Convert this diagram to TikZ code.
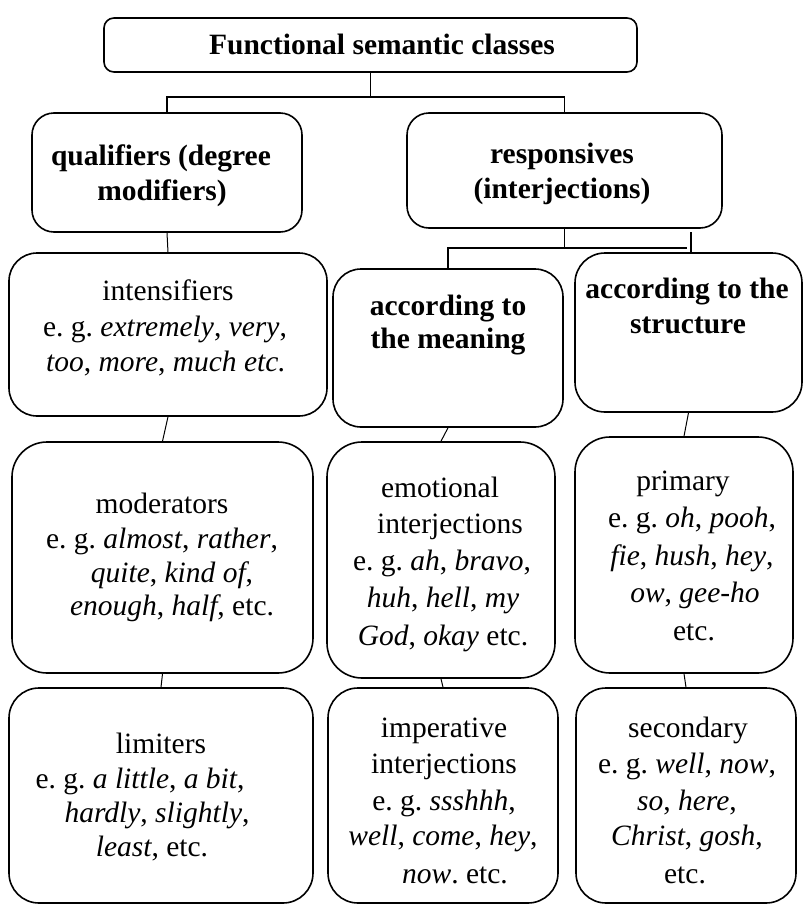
\documentclass[tikz,border=0pt]{standalone}
\usepackage{fontspec}
\setmainfont{Liberation Serif}
\frenchspacing
\begin{document}
\begin{tikzpicture}[x=1pt,y=-1pt,
  box/.style={draw, line width=1.6pt, inner sep=0pt},
  txt/.style={anchor=base, inner sep=0pt, font=\fontsize{29.5}{36}\selectfont},
  btxt/.style={anchor=base, inner sep=0pt, font=\fontsize{29.5}{36}\selectfont\bfseries},
  link/.style={line width=1.5pt},
  thin link/.style={line width=1pt}]
\useasboundingbox[fill=white] (0,0) rectangle (803,905);

% ---- boxes ----
\node[box, rounded corners=10pt, minimum width=533pt, minimum height=54pt]  (title) at (370.5,45)  {};
\node[box, rounded corners=22pt, minimum width=270pt, minimum height=119pt] (qual)  at (167,172.5) {};
\node[box, rounded corners=22pt, minimum width=315pt, minimum height=115pt] (resp)  at (564.5,170.5) {};
\node[box, rounded corners=28pt, minimum width=318pt, minimum height=163pt] (int)   at (168,334.5) {};
\node[box, rounded corners=28pt, minimum width=230pt, minimum height=158pt] (mean)  at (448,348)   {};
\node[box, rounded corners=30pt, minimum width=227pt, minimum height=159pt] (struc) at (688.5,332.5) {};
\node[box, rounded corners=35pt, minimum width=301pt, minimum height=231pt] (mod)   at (162.5,557.5) {};
\node[box, rounded corners=35pt, minimum width=228pt, minimum height=236pt] (emo)   at (441,560)   {};
\node[box, rounded corners=35pt, minimum width=218pt, minimum height=236pt] (prim)  at (684,555)   {};
\node[box, rounded corners=30pt, minimum width=304pt, minimum height=215pt] (lim)   at (161,795.5) {};
\node[box, rounded corners=30pt, minimum width=230pt, minimum height=215pt] (imp)   at (443,795.5) {};
\node[box, rounded corners=30pt, minimum width=220pt, minimum height=215pt] (sec)   at (686,795.5) {};

% ---- connectors ----
\coordinate (top bar) at (0,97);
\draw[link] (title.south) -- (title.south |- top bar);
\draw[link] (qual.north) -- (qual.north |- top bar) -- (resp.north |- top bar) -- (resp.north);

\coordinate (resp bar) at (0,248);
\coordinate (resp bar end) at (687,248);
\coordinate (struc stub) at (691,232);
\draw[link] (resp.south) -- (resp.south |- resp bar);
\draw[link] (mean.north) -- (mean.north |- resp bar) -- (resp bar end);
\draw[link] (struc stub) -- (struc stub |- struc.north);

\draw[thin link] (qual.south)  -- (int.north);
\draw[thin link] (int.south)   -- (mod.north);
\draw[thin link] (mod.south)   -- (lim.north);
\draw[thin link] (mean.south)  -- (emo.north);
\draw[thin link] (emo.south)   -- (imp.north);
\draw[thin link] (struc.south) -- (prim.north);
\draw[thin link] (prim.south)  -- (sec.north);

% ---- texts ----
\node[btxt] (title1) at (382,54) {Functional semantic classes};

\node[btxt] (qual1) at (161,165) {qualifiers (degree};
\node[btxt] (qual2) at (162,200) {modifiers)};

\node[btxt] (resp1) at (562,163) {responsives};
\node[btxt] (resp2) at (562,198) {(interjections)};

\node[txt] (int1) at (168,300) {intensifiers};
\node[txt] (int2) at (165,336) {e. g. \textit{extremely}, \textit{very},};
\node[txt] (int3) at (166,371) {\textit{too}, \textit{more}, \textit{much etc.}};

\node[btxt] (mean1) at (448,315) {according to};
\node[btxt] (mean2) at (448,348) {the meaning};

\node[btxt] (struc1) at (687,298) {according to the};
\node[btxt] (struc2) at (688,333) {structure};

\node[txt] (mod1) at (162,513) {moderators};
\node[txt] (mod2) at (162,548) {e. g. \textit{almost}, \textit{rather},};
\node[txt] (mod3) at (172,582) {\textit{quite}, \textit{kind of},};
\node[txt] (mod4) at (172,615) {\textit{enough}, \textit{half}, etc.};

\node[txt] (emo1) at (440,497) {emotional};
\node[txt] (emo2) at (450,533) {interjections};
\node[txt] (emo3) at (442,570) {e. g. \textit{ah}, \textit{bravo},};
\node[txt] (emo4) at (443,607) {\textit{huh}, \textit{hell}, \textit{my}};
\node[txt] (emo5) at (443,645) {\textit{God}, \textit{okay} etc.};

\node[txt] (prim1) at (683,490) {primary};
\node[txt] (prim2) at (692,527) {e. g. \textit{oh}, \textit{pooh},};
\node[txt] (prim3) at (692,565) {\textit{fie}, \textit{hush}, \textit{hey},};
\node[txt] (prim4) at (695,602) {\textit{ow}, \textit{gee-ho}};
\node[txt] (prim5) at (694,640) {etc.};

\node[txt] (lim1) at (161,753) {limiters};
\node[txt] (lim2) at (140,788) {e. g. \textit{a little}, \textit{a bit},};
\node[txt] (lim3) at (157,822) {\textit{hardly}, \textit{slightly},};
\node[txt] (lim4) at (152,856) {\textit{least}, etc.};

\node[txt] (imp1) at (444,737) {imperative};
\node[txt] (imp2) at (444,773) {interjections};
\node[txt] (imp3) at (444,810) {e. g. \textit{ssshhh},};
\node[txt] (imp4) at (443,845) {\textit{well}, \textit{come}, \textit{hey},};
\node[txt] (imp5) at (455,883) {\textit{now}. etc.};

\node[txt] (sec1) at (688,737) {secondary};
\node[txt] (sec2) at (687,773) {e. g. \textit{well}, \textit{now},};
\node[txt] (sec3) at (687,810) {\textit{so}, \textit{here},};
\node[txt] (sec4) at (687,845) {\textit{Christ}, \textit{gosh},};
\node[txt] (sec5) at (685,883) {etc.};
\end{tikzpicture}
\end{document}
